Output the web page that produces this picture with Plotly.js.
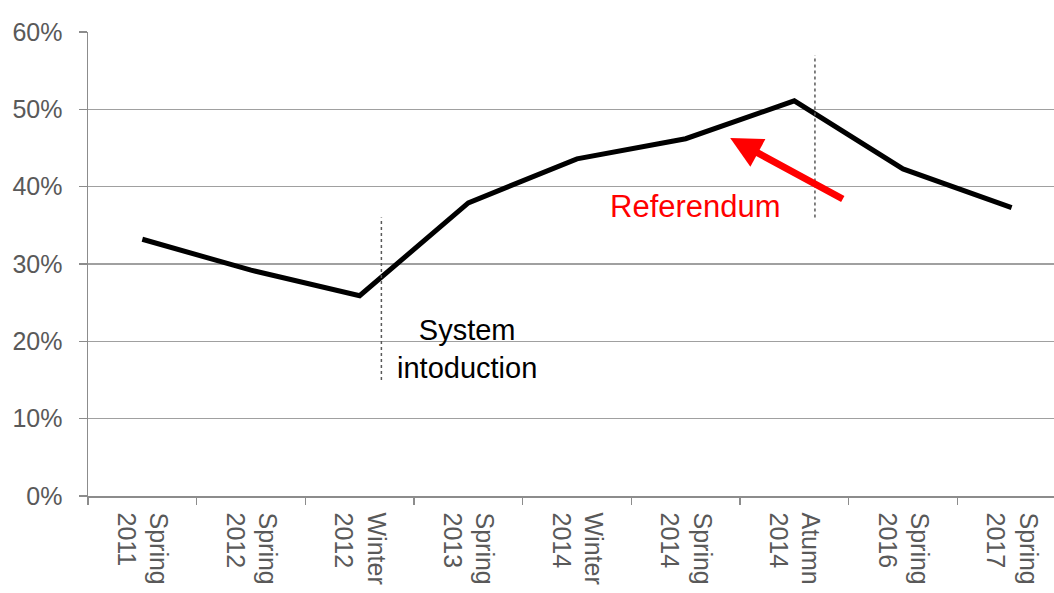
<!DOCTYPE html>
<html>
<head>
<meta charset="utf-8">
<script src="https://cdn.plot.ly/plotly-3.0.1.min.js"></script>
<style>html,body{margin:0;padding:0;background:#fff;}#chart{width:1054px;height:593px;}</style>
</head>
<body>
<div id="chart"></div>
<script>
const categories = ["Spring<br>2011", "Spring<br>2012", "Winter<br>2012", "Spring<br>2013", "Winter<br>2014", "Spring<br>2014", "Atumn<br>2014", "Spring<br>2016", "Spring<br>2017"];
const values = [33.2, 29.2, 25.9, 37.9, 43.6, 46.2, 51.1, 42.3, 37.3];
const yTicks = [0, 10, 20, 30, 40, 50, 60];
const events = ["System<br>intoduction", "System<br>revision"];
const referendumLabel = "Referendum";

const font = "Liberation Sans, Arial, sans-serif";
const grey = "#8c8c8c";

const trace = {
  x: categories,
  y: values,
  type: "scatter",
  mode: "lines",
  line: {color: "#000000", width: 5},
  hoverinfo: "skip"
};

const layout = {
  width: 1054, height: 593,
  margin: {l: 88, r: 0, t: 32, b: 97, pad: 0},
  paper_bgcolor: "#ffffff", plot_bgcolor: "#ffffff",
  showlegend: false,
  font: {family: font},
  xaxis: {
    type: "category",
    range: [-0.5, 8.39],
    tickson: "boundaries",
    ticks: "outside", ticklen: 7, tickwidth: 1.5, tickcolor: grey,
    showline: true, linecolor: grey, linewidth: 1.5,
    showgrid: false, zeroline: false,
    tickangle: 90,
    ticklabelstandoff: 10,
    tickfont: {family: font, size: 25, color: "#595959"},
    fixedrange: true
  },
  yaxis: {
    range: [0, 60],
    tickvals: yTicks,
    ticktext: yTicks.map(v => v + "%"),
    ticks: "outside", ticklen: 8, tickwidth: 1.5, tickcolor: grey,
    showline: true, linecolor: grey, linewidth: 1.5,
    showgrid: true, gridcolor: "#a0a0a0", gridwidth: 1.5,
    zeroline: false,
    ticklabelstandoff: 11,
    tickfont: {family: font, size: 25, color: "#595959"},
    fixedrange: true
  },
  shapes: [
    {type: "line", xref: "x", yref: "y", x0: 2.2, x1: 2.2, y0: 15, y1: 36,
     line: {color: "#595959", width: 1.5, dash: "dot"}},
    {type: "line", xref: "x", yref: "y", x0: 6.19, x1: 6.19, y0: 36, y1: 57,
     line: {color: "#595959", width: 1.5, dash: "dot"}}
  ],
  annotations: [
    {text: events[0], xref: "x", yref: "y", x: 2.99, y: 19, showarrow: false,
     font: {family: font, size: 29, color: "#000000"}, align: "center"},
    {text: events[1], xref: "x", yref: "y", x: 6.79, y: 60.3, showarrow: false,
     font: {family: font, size: 28, color: "#000000"}, align: "center"},
    {text: referendumLabel, xref: "x", yref: "y", x: 5.09, y: 37.4, showarrow: false,
     font: {family: font, size: 31, color: "#ff0000"}},
    {text: "", xref: "x", yref: "y", x: 5.41, y: 46.3,
     axref: "x", ayref: "y", ax: 6.46, ay: 38.3,
     showarrow: true, arrowhead: 2, arrowsize: 0.9, arrowwidth: 7, arrowcolor: "#ff0000"}
  ]
};

Plotly.newPlot("chart", [trace], layout, {displayModeBar: false, staticPlot: true});
</script>
</body>
</html>
